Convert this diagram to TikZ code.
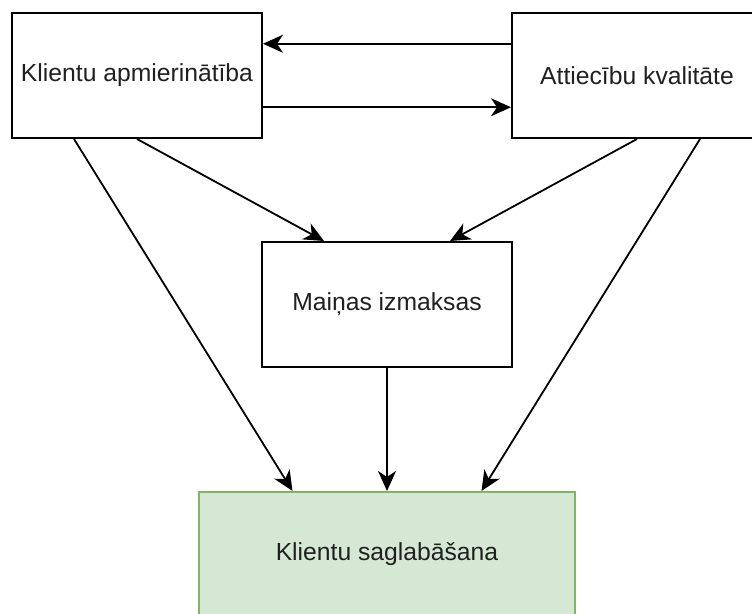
\documentclass[tikz,border=0pt]{standalone}
\usepackage{fontspec}
\setmainfont{Liberation Sans}
\usetikzlibrary{arrows.meta,calc}
\definecolor{gfill}{HTML}{D5E8D4}
\definecolor{gline}{HTML}{82B366}
\definecolor{txt}{HTML}{202020}
\tikzset{
  box/.style={draw=black, line width=2pt, fill=white, minimum width=250pt, minimum height=125pt, inner sep=0pt, text=txt, font=\fontsize{24.7}{29}\selectfont},
  greenbox/.style={box, draw=gline, fill=gfill, minimum width=376pt},
  conn/.style={line width=1.8pt, -{Stealth[length=20pt, width=18pt, inset=6pt]}}
}
\begin{document}
\begin{tikzpicture}[x=1pt,y=-1pt]
\useasboundingbox (0,0) rectangle (752,613);
\begin{scope}
\clip (0,0) rectangle (752,613);
\node[box] (L) at (137,75.5) {Klientu apmierinātība};
\node[box] (R) at (637,75.5) {Attiecību kvalitāte};
\node[box] (M) at (387,304.5) {Maiņas izmaksas};
\node[greenbox] (B) at (387,554.5) {Klientu saglabāšana};
\end{scope}
\coordinate (Re1) at ($(R.north west)!0.25!(R.south west)$);
\coordinate (Le1) at ($(L.north east)!0.25!(L.south east)$);
\coordinate (Le2) at ($(L.north east)!0.75!(L.south east)$);
\coordinate (Re2) at ($(R.north west)!0.75!(R.south west)$);
\coordinate (Ls1) at ($(L.south west)!0.25!(L.south east)$);
\coordinate (Ls2) at ($(L.south west)!0.5!(L.south east)$);
\coordinate (Rs1) at ($(R.south west)!0.5!(R.south east)$);
\coordinate (Rs2) at ($(R.south west)!0.75!(R.south east)$);
\coordinate (Mn1) at ($(M.north west)!0.25!(M.north east)$);
\coordinate (Mn2) at ($(M.north west)!0.75!(M.north east)$);
\coordinate (Bn1) at ($(B.north west)!0.25!(B.north east)$);
\coordinate (Bn2) at ($(B.north west)!0.5!(B.north east)$);
\coordinate (Bn3) at ($(B.north west)!0.75!(B.north east)$);
\draw[conn] (Re1) -- (Le1);
\draw[conn] (Le2) -- (Re2);
\draw[conn] (Ls1) -- (Bn1);
\draw[conn] (Ls2) -- (Mn1);
\draw[conn] (Rs1) -- (Mn2);
\draw[conn] (Rs2) -- (Bn3);
\draw[conn] (M.south) -- (Bn2);
\end{tikzpicture}
\end{document}
